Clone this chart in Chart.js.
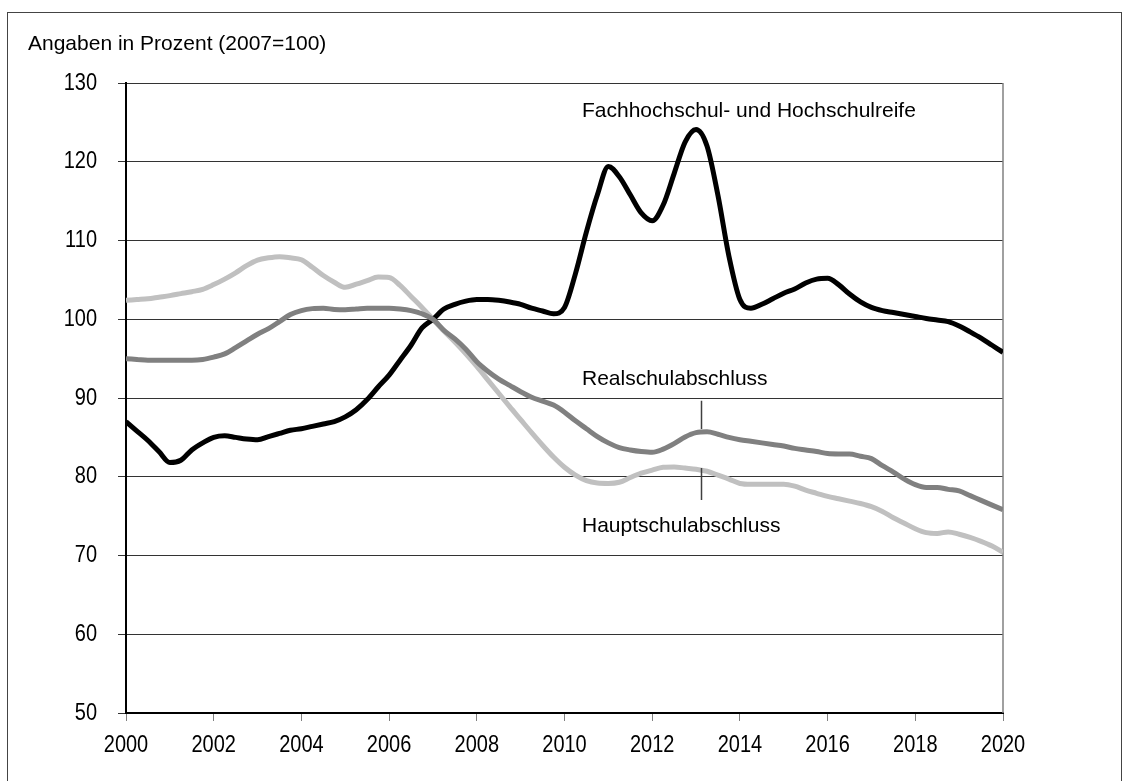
<!DOCTYPE html>
<html lang="de">
<head>
<meta charset="utf-8">
<title>Schulabschlüsse 2000–2020</title>
<script src="https://cdn.jsdelivr.net/npm/chart.js@4.4.1/dist/chart.umd.min.js"></script>
<style>
  html, body { margin: 0; padding: 0; background: #fff; }
  #chart { display: block; }
</style>
</head>
<body>
<canvas id="chart" width="1124" height="781"></canvas>
<script>
// quarterly steps, 2000 to 2020
const years = [
  2000, 2000.25, 2000.5, 2000.75, 2001, 2001.25, 2001.5, 2001.75,
  2002, 2002.25, 2002.5, 2002.75, 2003, 2003.25, 2003.5, 2003.75,
  2004, 2004.25, 2004.5, 2004.75, 2005, 2005.25, 2005.5, 2005.75,
  2006, 2006.25, 2006.5, 2006.75, 2007, 2007.25, 2007.5, 2007.75,
  2008, 2008.25, 2008.5, 2008.75, 2009, 2009.25, 2009.5, 2009.75,
  2010, 2010.25, 2010.5, 2010.75, 2011, 2011.25, 2011.5, 2011.75,
  2012, 2012.25, 2012.5, 2012.75, 2013, 2013.25, 2013.5, 2013.75,
  2014, 2014.25, 2014.5, 2014.75, 2015, 2015.25, 2015.5, 2015.75,
  2016, 2016.25, 2016.5, 2016.75, 2017, 2017.25, 2017.5, 2017.75,
  2018, 2018.25, 2018.5, 2018.75, 2019, 2019.25, 2019.5, 2019.75,
  2020
];

const hochschulreife = [
  87.0, 85.8, 84.6, 83.2,   81.8, 82.1, 83.4, 84.3,
  85.0, 85.2, 85.0, 84.8,   84.7, 85.1, 85.5, 85.9,
  86.1, 86.4, 86.7, 87.0,   87.6, 88.5, 89.8, 91.4,
  92.9, 94.8, 96.7, 98.9,   100.0, 101.3, 101.9, 102.3,
  102.5, 102.5, 102.4, 102.2,   101.9, 101.4, 101.05, 100.7,
  101.5, 105.8, 111.1, 115.8,   119.4, 118.1, 115.8, 113.5,
  112.5, 114.5, 118.5, 122.5,   124.1, 122.0, 115.7, 108.0,
  102.5, 101.4, 101.9, 102.6,   103.3, 103.85, 104.6, 105.1,
  105.2, 104.4, 103.2, 102.2,   101.5, 101.1, 100.85, 100.6,
  100.35, 100.1, 99.9, 99.7,   99.15, 98.4, 97.6, 96.7,
  95.8
];

const realschule = [
  95.0, 94.9, 94.8, 94.8,   94.8, 94.8, 94.8, 94.9,
  95.2, 95.6, 96.4, 97.25,   98.1, 98.8, 99.7, 100.6,
  101.1, 101.35, 101.4, 101.25,   101.2, 101.3, 101.4, 101.4,
  101.4, 101.3, 101.1, 100.7,   100.0, 98.6, 97.5, 96.2,
  94.6, 93.4, 92.4, 91.6,   90.8, 90.1, 89.6, 89.1,
  88.2, 87.1, 86.1, 85.1,   84.3, 83.7, 83.4, 83.2,
  83.1, 83.5, 84.2, 85.05,   85.6, 85.7, 85.4, 85.0,
  84.7, 84.5, 84.3, 84.1,   83.9, 83.6, 83.4, 83.2,
  82.95, 82.9, 82.9, 82.6,   82.3, 81.4, 80.6, 79.7,
  79.0, 78.65, 78.65, 78.4,   78.2, 77.6, 77.0, 76.4,
  75.8
];

const hauptschule = [
  102.4, 102.5, 102.6, 102.8,   103.0, 103.25, 103.5, 103.8,
  104.4, 105.1, 105.9, 106.8,   107.5, 107.8, 107.95, 107.8,
  107.55, 106.6, 105.55, 104.7,   104.05, 104.45, 104.9, 105.35,
  105.3, 104.3, 102.9, 101.5,   100.0, 98.5, 97.1, 95.6,
  94.0, 92.3, 90.6, 88.9,   87.25, 85.6, 84.0, 82.5,
  81.2, 80.2, 79.5, 79.2,   79.15, 79.3, 79.9, 80.45,
  80.85, 81.2, 81.25, 81.1,   80.95, 80.7, 80.2, 79.7,
  79.15, 79.05, 79.05, 79.05,   79.05, 78.8, 78.3, 77.9,
  77.5, 77.2, 76.9, 76.6,   76.2, 75.6, 74.8, 74.1,
  73.4, 72.9, 72.8, 73.0,   72.7, 72.3, 71.8, 71.2,
  70.4
];

const yTicks = [50, 60, 70, 80, 90, 100, 110, 120, 130];
const xTicks = [2000, 2002, 2004, 2006, 2008, 2010, 2012, 2014, 2016, 2018, 2020];

const FONT = 'Liberation Sans, Arial, sans-serif';

const toPoints = (values) => values.map((v, i) => ({ x: years[i], y: v }));

// tick labels are drawn a little taller than the font's natural shape
const drawTallText = (ctx, text, x, y, align) => {
  ctx.save();
  ctx.translate(x, y);
  ctx.scale(1, 1.2);
  ctx.textAlign = align;
  ctx.textBaseline = 'middle';
  ctx.fillText(text, 0, 0);
  ctx.restore();
};

// outer frame, right border, axis caption, tick labels, series labels and leader ticks
const decor = {
  id: 'decor',
  beforeDatasetsDraw(chart) {
    const { ctx, chartArea } = chart;
    ctx.save();
    ctx.strokeStyle = '#808080';
    ctx.lineWidth = 1.5;
    ctx.beginPath();
    ctx.moveTo(chartArea.right, chartArea.top);
    ctx.lineTo(chartArea.right, chartArea.bottom);
    ctx.stroke();
    ctx.restore();
  },
  afterDraw(chart) {
    const { ctx } = chart;
    const x = chart.scales.x;
    const y = chart.scales.y;
    ctx.save();

    ctx.strokeStyle = '#444';
    ctx.lineWidth = 1;
    ctx.strokeRect(7.5, 12.5, 1114, 820);

    ctx.fillStyle = '#000';
    ctx.font = '20px ' + FONT;
    y.ticks.forEach(t => drawTallText(ctx, String(t.value), 97, y.getPixelForValue(t.value), 'right'));
    x.ticks.forEach(t => drawTallText(ctx, String(t.value), x.getPixelForValue(t.value), 745, 'center'));

    ctx.font = '21px ' + FONT;
    ctx.textBaseline = 'alphabetic';
    ctx.textAlign = 'left';
    ctx.fillText('Angaben in Prozent (2007=100)', 28, 50);

    ctx.fillText('Fachhochschul- und Hochschulreife', 582, 117);
    ctx.fillText('Realschulabschluss', 582, 385);
    ctx.fillText('Hauptschulabschluss', 582, 532);

    // leader lines to the 2013 values
    const lx = Math.round(x.getPixelForValue(2013.12)) + 0.5;
    ctx.strokeStyle = '#404040';
    ctx.lineWidth = 1.5;
    ctx.beginPath();
    ctx.moveTo(lx, y.getPixelForValue(89.65));
    ctx.lineTo(lx, y.getPixelForValue(86.05));
    ctx.moveTo(lx, y.getPixelForValue(81.1));
    ctx.lineTo(lx, y.getPixelForValue(77.05));
    ctx.stroke();

    ctx.restore();
  }
};

const ctx = document.getElementById('chart').getContext('2d');

new Chart(ctx, {
  type: 'line',
  data: {
    datasets: [
      { label: 'Realschulabschluss', data: toPoints(realschule), borderColor: '#808080' },
      { label: 'Fachhochschul- und Hochschulreife', data: toPoints(hochschulreife), borderColor: '#000000' },
      { label: 'Hauptschulabschluss', data: toPoints(hauptschule), borderColor: '#c0c0c0' }
    ]
  },
  options: {
    responsive: false,
    animation: false,
    devicePixelRatio: 1,
    layout: { padding: { top: 83, right: 121, left: 0, bottom: 0 } },
    plugins: {
      legend: { display: false },
      tooltip: { enabled: false }
    },
    elements: {
      point: { radius: 0 },
      line: {
        borderWidth: 5,
        fill: false,
        cubicInterpolationMode: 'monotone',
        borderCapStyle: 'butt',
        borderJoinStyle: 'round'
      }
    },
    scales: {
      x: {
        type: 'linear',
        min: 2000,
        max: 2020,
        afterBuildTicks: (scale) => { scale.ticks = xTicks.map(v => ({ value: v })); },
        ticks: { display: false },
        grid: { drawOnChartArea: false, tickLength: 8, color: '#808080', lineWidth: 1 },
        border: { color: '#000', width: 2 },
        afterFit: (scale) => { scale.height = 68; }
      },
      y: {
        min: 50,
        max: 130,
        afterBuildTicks: (scale) => { scale.ticks = yTicks.map(v => ({ value: v })); },
        ticks: { display: false },
        grid: { color: '#333', lineWidth: 1, tickLength: 8 },
        border: { color: '#000', width: 2 },
        afterFit: (scale) => { scale.width = 126; }
      }
    }
  },
  plugins: [decor]
});
</script>
</body>
</html>
